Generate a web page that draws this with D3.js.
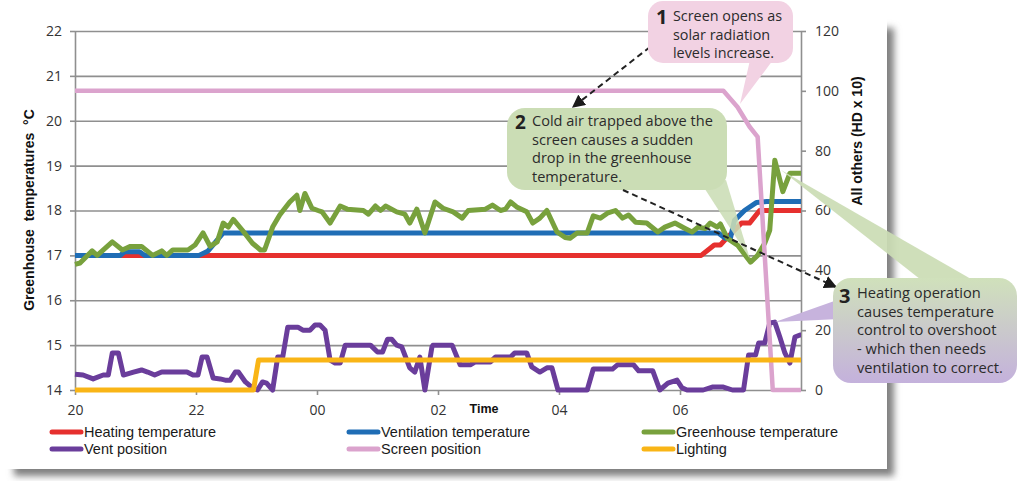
<!DOCTYPE html>
<html><head><meta charset="utf-8">
<script src="https://cdn.jsdelivr.net/npm/d3@7"></script>
<style>body{margin:0;background:#fff;} svg{display:block;}</style>
</head><body>
<svg id="chart" width="1024" height="481"></svg>
<script>
// ---------- DATA (minutes after 20:00, value) ----------
const xTickMinutes = [0,120,240,360,480,600];
const xTickLabels  = ["20","22","00","02","04","06"];
const leftTicks  = [14,15,16,17,18,19,20,21,22];
const rightTicks = [0,20,40,60,80,100,120];

const heatingTemperature = [[0,17],[621,17],[634,17.23],[640,17.23],[647,17.4],[661,17.72],[669,17.72],[679,18.0],[720,18.0]];
const ventilationTemperature = [[0,17],[45,17],[49,17.08],[64,17.08],[69,17],[123,17],[132,17.1],[147,17.5],[638,17.5],[645,17.38],[650,17.38],[654,17.78],[664,18.0],[676,18.18],[686,18.2],[720,18.2]];
const greenhouseTemperature = [[0,16.8],[5,16.83],[17,17.1],[22,17.0],[37,17.3],[47,17.12],[55,17.2],[66,17.2],[77,17.0],[86,17.1],[91,17.0],[97,17.12],[112,17.12],[119,17.23],[127,17.5],[134,17.2],[141,17.3],[147,17.72],[152,17.63],[157,17.8],[166,17.56],[176,17.27],[184,17.12],[188,17.12],[196,17.63],[203,17.9],[213,18.19],[220,18.34],[223,18.0],[228,18.38],[235,18.05],[241,18.0],[245,17.97],[253,17.72],[263,18.1],[270,18.03],[286,18.0],[291,17.92],[298,18.1],[303,18.0],[308,18.1],[319,17.97],[327,17.92],[332,17.72],[339,18.03],[347,17.5],[357,18.19],[365,18.05],[375,17.97],[384,17.83],[390,18.0],[407,18.03],[414,18.12],[422,18.0],[427,18.03],[432,18.19],[438,18.08],[448,17.97],[454,17.72],[461,17.83],[468,18.0],[478,17.52],[486,17.4],[491,17.38],[498,17.5],[508,17.5],[514,17.88],[521,17.83],[528,17.94],[536,18.0],[543,17.83],[549,17.9],[556,17.74],[567,17.72],[578,17.52],[585,17.63],[595,17.72],[605,17.6],[612,17.52],[618,17.63],[625,17.6],[630,17.72],[637,17.63],[640,17.7],[647,17.38],[657,17.23],[670,16.85],[677,17.0],[684,17.27],[689,17.56],[694,19.12],[702,18.42],[709,18.83],[720,18.83]];
const ventPosition = [[0,5.3],[8,5.0],[18,3.7],[28,5.0],[33,5.0],[37,12.4],[43,12.4],[48,5.0],[58,6.0],[66,6.7],[72,6.0],[79,5.0],[86,6.0],[111,6.0],[117,5.0],[122,5.0],[126,11.0],[131,11.0],[137,4.0],[144,3.7],[149,3.3],[154,3.3],[159,6.0],[162,6.0],[169,2.7],[176,0.7],[181,0],[186,2.7],[190,2.3],[196,0],[201,11],[206,11],[211,21],[221,21],[226,20],[233,20],[238,21.7],[243,21.7],[248,20],[253,10],[258,9],[263,9],[268,15],[293,15],[300,12.7],[305,12.7],[310,17],[314,17],[319,15],[324,14.4],[332,7.4],[337,6.0],[342,11],[347,0],[354,14.4],[355,15],[374,15],[382,8.4],[392,8.4],[397,9.4],[412,9.4],[417,11],[432,11],[436,12.4],[448,12.4],[453,7.7],[461,6.0],[468,7.4],[473,7.4],[479,0],[508,0],[514,7],[533,7],[538,8.4],[554,8.4],[559,6.4],[573,6.4],[580,0],[588,2.3],[597,3.3],[602,0.7],[607,0],[623,0],[632,1],[643,1],[652,0],[663,0],[668,11.7],[675,11.7],[678,15.7],[684,15.7],[689,22.4],[694,22.7],[699,17.7],[704,12.4],[709,9],[714,17.7],[719,18.4],[720,18.4]];
const screenPosition = [[0,100],[643,100],[657,94.6],[669,88],[677,84.6],[692,0],[720,0]];
const lighting = [[0,0],[177,0],[182,10],[720,10]];

const seriesNames  = ["Heating temperature","Ventilation temperature","Greenhouse temperature","Vent position","Screen position","Lighting"];
const seriesData   = [heatingTemperature, ventilationTemperature, greenhouseTemperature, ventPosition, screenPosition, lighting];
const seriesAxis   = ["left","left","left","right","right","right"];
const seriesColors = ["#e6302e","#1f6db5","#78a13d","#6a3d9b","#dba3cd","#f9b516"];

// ---------- LAYOUT ----------
const svg = d3.select("#chart");
const W = 1024, H = 481;
const plot = {l:75, r:801, t:31, b:390};
const x  = d3.scaleLinear().domain([0,720]).range([plot.l, plot.r]);
const yL = d3.scaleLinear().domain([14,22]).range([plot.b, plot.t]);
const yR = d3.scaleLinear().domain([0,120]).range([plot.b, plot.t]);

const defs = svg.append("defs");
const f = defs.append("filter").attr("id","blur").attr("x","-10%").attr("y","-10%").attr("width","120%").attr("height","120%");
f.append("feGaussianBlur").attr("stdDeviation",3.5);
const grad = defs.append("linearGradient").attr("id","g3").attr("x1",0).attr("y1",0).attr("x2",0).attr("y2",1);
grad.append("stop").attr("offset","0%").attr("stop-color","#d0e1bb");
grad.append("stop").attr("offset","100%").attr("stop-color","#c4b1dc");
defs.append("marker").attr("id","arr").attr("viewBox","0 0 10 10").attr("refX",9).attr("refY",5)
  .attr("markerWidth",13).attr("markerHeight",13).attr("markerUnits","userSpaceOnUse").attr("orient","auto")
  .append("path").attr("d","M0,0 L10,5 L0,10 Z").attr("fill","#1a1a1a");

// panel + shadow
svg.append("rect").attr("x",14).attr("y",28).attr("width",880).attr("height",448).attr("fill","#808080").attr("filter","url(#blur)");
svg.append("rect").attr("x",0).attr("y",0).attr("width",887).attr("height",469).attr("fill","#fff");

const gridColor = "#8f8f8f";
const tickFont = "'Open Sans', sans-serif";

// gridlines
svg.append("g").attr("transform",`translate(${plot.l},0)`)
  .call(d3.axisLeft(yL).tickValues(leftTicks).tickSize(-(plot.r-plot.l)).tickFormat(""))
  .call(g=>{g.select(".domain").remove(); g.selectAll("line").attr("stroke",gridColor).attr("stroke-width",1.6);});

// left axis
const gL = svg.append("g").attr("transform",`translate(${plot.l},0)`)
  .call(d3.axisLeft(yL).tickValues(leftTicks).tickSize(5).tickPadding(8).tickSizeOuter(0));
// right axis
const gR = svg.append("g").attr("transform",`translate(${plot.r},0)`)
  .call(d3.axisRight(yR).tickValues(rightTicks).tickSize(5).tickPadding(9).tickSizeOuter(0));
// bottom axis
const gB = svg.append("g").attr("transform",`translate(0,${plot.b})`)
  .call(d3.axisBottom(x).tickValues(xTickMinutes).tickFormat((d,i)=>xTickLabels[i]).tickSize(5).tickPadding(10).tickSizeOuter(0));
gB.select(".domain").remove();
[gL,gR,gB].forEach(g=>{
  g.selectAll(".domain").attr("stroke",gridColor).attr("stroke-width",1.6);
  g.selectAll(".tick line").attr("stroke",gridColor).attr("stroke-width",1.6);
  g.selectAll(".tick text").attr("font-family",tickFont).attr("font-size",14).attr("fill","#333");
});

// axis titles
svg.append("text").attr("transform","translate(34,210) rotate(-90)").attr("text-anchor","middle")
  .attr("font-family","'Liberation Sans', Arial, sans-serif").attr("font-weight","bold").attr("font-size",14)
  .attr("fill","#111").style("white-space","pre").text("Greenhouse  temperatures  °C");
svg.append("text").attr("transform","translate(862,141) rotate(-90)").attr("text-anchor","middle")
  .attr("font-family","'Liberation Sans', Arial, sans-serif").attr("font-weight","bold").attr("font-size",14)
  .attr("fill","#111").text("All others (HD x 10)");
svg.append("text").attr("x",484).attr("y",413).attr("text-anchor","middle")
  .attr("font-family","'Liberation Sans', Arial, sans-serif").attr("font-weight","bold").attr("font-size",12.5)
  .attr("fill","#111").text("Time");

// series lines
seriesData.forEach((data,i)=>{
  const ys = seriesAxis[i]==="left" ? yL : yR;
  const line = d3.line().x(d=>x(d[0])).y(d=>ys(d[1]));
  svg.append("path").datum(data).attr("d",line).attr("fill","none")
    .attr("stroke",seriesColors[i]).attr("stroke-width", i===4?4.5:5)
    .attr("stroke-linejoin","round").attr("stroke-linecap","butt");
});

// legend
const legX = [50,347,642], legY = [432,449];
seriesNames.forEach((n,i)=>{
  const cx = legX[i%3], cy = legY[Math.floor(i/3)];
  svg.append("line").attr("x1",cx+2).attr("x2",cx+31).attr("y1",cy).attr("y2",cy)
    .attr("stroke",seriesColors[i]).attr("stroke-width",5).attr("stroke-linecap","round");
  svg.append("text").attr("x",cx+34).attr("y",cy).attr("dy","0.35em")
    .attr("font-family","'Liberation Sans', Arial, sans-serif").attr("font-size",14.5).attr("fill","#1a1a1a").text(n);
});

// ---------- CALLOUTS ----------
const calloutFont = "'Open Sans', sans-serif";
function addText(lines, tx, baseline, lh, targetW, num, nx, nbase, nsize){
  const g = svg.append("g");
  const ts = lines.map((l,k)=>g.append("text").attr("x",tx).attr("y",baseline+k*lh)
    .attr("font-family",calloutFont).attr("font-size",14).attr("fill","#2b2b2b").text(l));
  const w = d3.max(ts, t=>t.node().getComputedTextLength());
  const fs = 14*targetW/w;
  ts.forEach(t=>t.attr("font-size",fs));
  g.append("text").attr("x",nx).attr("y",nbase).attr("font-family",calloutFont).attr("font-weight","bold")
    .attr("font-size",nsize).attr("fill","#222").text(num);
}
// callout 2 dashed arrow & callout 1 arrow (drawn before boxes)
svg.append("line").attr("x1",650).attr("y1",47).attr("x2",573).attr("y2",107)
  .attr("stroke","#222").attr("stroke-width",2).attr("stroke-dasharray","6,4").attr("marker-end","url(#arr)");

// callout 1 (pink)
svg.append("path").attr("d","M750,60 L773,60 L740,104 Z").attr("fill","#f2d2e3");
svg.append("rect").attr("x",648).attr("y",1).attr("width",145).attr("height",62).attr("rx",15).attr("fill","#f2d2e3");
addText(["Screen opens as","solar radiation","levels increase."],673,21,18.7,109,"1",656,24,20);

// callout 2 (green)
svg.append("path").attr("d","M703,186 L726,180 L750,259 Z").attr("fill","#cbddb5").attr("opacity",0.88);
svg.append("rect").attr("x",507).attr("y",108).attr("width",220).attr("height",82).attr("rx",18).attr("fill","#cbddb5");
addText(["Cold air trapped above the","screen causes a sudden","drop in the greenhouse","temperature."],532,126,18.7,181,"2",515,129,19);
svg.append("line").attr("x1",623).attr("y1",190).attr("x2",836).attr("y2",287)
  .attr("stroke","#222").attr("stroke-width",2).attr("stroke-dasharray","6,4").attr("marker-end","url(#arr)");

// callout 3 (green→purple)
svg.append("path").attr("d","M781,170 L925,283 L978,283 Z").attr("fill","#cbdcb4").attr("opacity",0.92);
svg.append("path").attr("d","M775,322 L840,299 L840,319 Z").attr("fill","#c7b3dd");
svg.append("rect").attr("x",833).attr("y",278).attr("width",184).attr("height",105).attr("rx",18).attr("fill","url(#g3)");
addText(["Heating operation","causes temperature","control to overshoot","- which then needs","ventilation to correct."],857,298,18.7,146,"3",839,303,20);
</script>
</body></html>
